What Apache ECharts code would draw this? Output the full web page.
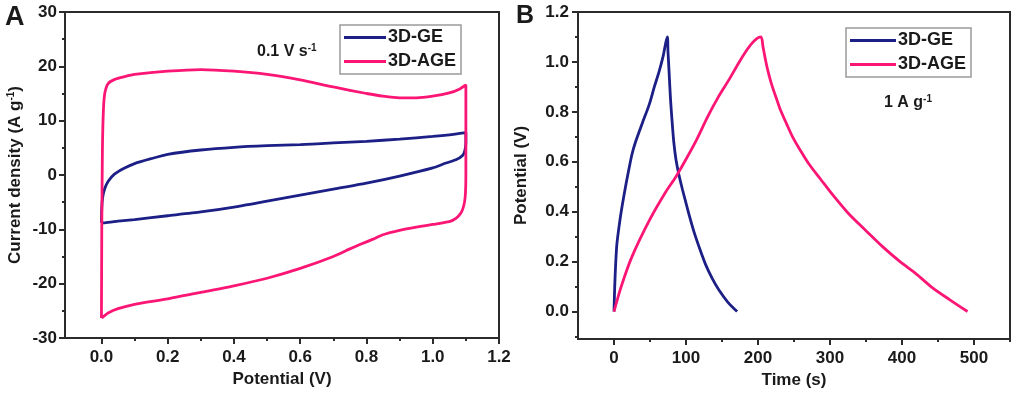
<!DOCTYPE html>
<html><head><meta charset="utf-8">
<script src="https://cdn.jsdelivr.net/npm/echarts@6/dist/echarts.min.js"></script>
<style>html,body{margin:0;padding:0;background:#fff}#c{width:1016px;height:395px}</style>
</head><body><div id="c"></div>
<script>
const seriesNames = ['3D-GE', '3D-AGE'];

// Panel A: cyclic voltammetry at 0.1 V/s (closed loops)
const cvGE_x = [0, 0.001, 0.004, 0.01, 0.02, 0.04, 0.07, 0.1, 0.15, 0.2, 0.3, 0.4, 0.5, 0.6, 0.7, 0.8, 0.9, 1.0, 1.05, 1.1, 1.1, 1.097, 1.09, 1.07, 1.04, 1.0, 0.9, 0.8, 0.7, 0.6, 0.5, 0.4, 0.3, 0.2, 0.1, 0.05, 0.01, 0];
const cvGE_y = [-8.8, -6, -4, -2.5, -1.2, 0.2, 1.3, 2.1, 3.0, 3.8, 4.6, 5.1, 5.4, 5.6, 5.9, 6.2, 6.6, 7.1, 7.4, 7.8, 6.0, 4.5, 3.6, 2.8, 2.2, 1.3, -0.2, -1.5, -2.6, -3.7, -4.8, -5.9, -6.8, -7.5, -8.2, -8.5, -8.8, -8.8];
const cvAGE_x = [0, 0.001, 0.003, 0.006, 0.01, 0.02, 0.04, 0.07, 0.1, 0.2, 0.3, 0.4, 0.5, 0.6, 0.7, 0.8, 0.85, 0.9, 0.95, 1.0, 1.05, 1.08, 1.1, 1.1, 1.1, 1.098, 1.093, 1.085, 1.07, 1.05, 1.0, 0.95, 0.9, 0.85, 0.82, 0.78, 0.75, 0.7, 0.6, 0.5, 0.4, 0.3, 0.2, 0.1, 0.05, 0.02, 0.005, 0];
const cvAGE_y = [-26.3, -10, 5, 12, 15, 16.8, 17.6, 18.1, 18.5, 19.1, 19.4, 19.1, 18.5, 17.5, 16.2, 15.0, 14.5, 14.2, 14.2, 14.5, 15.1, 15.8, 16.6, 10, 0, -4, -5.8, -7, -8, -8.6, -9.1, -9.6, -10.2, -11.0, -11.8, -12.8, -13.6, -15.0, -17.2, -19.0, -20.4, -21.6, -22.8, -23.8, -24.6, -25.4, -26.1, -26.3];

// Panel B: galvanostatic charge/discharge at 1 A/g
const gcdGE_t = [0, 1, 2.3, 4, 7, 10, 16, 20, 25, 30, 40, 49, 56, 62.5, 68, 74, 75, 76.5, 78.5, 81, 83, 86, 90, 95, 99.5, 105, 111, 118, 127, 136, 146, 158, 171];
const gcdGE_v = [0, 0.1, 0.19, 0.27, 0.34, 0.4, 0.5, 0.56, 0.63, 0.68, 0.76, 0.83, 0.9, 0.96, 1.02, 1.1, 1.04, 0.96, 0.85, 0.75, 0.68, 0.61, 0.55, 0.49, 0.44, 0.38, 0.32, 0.26, 0.19, 0.135, 0.085, 0.038, 0];
const gcdAGE_t = [0, 10, 25, 50, 72, 86, 100, 115, 130, 145, 160, 174, 185, 195, 204, 207, 211, 215, 220, 226, 231.5, 240, 248, 260, 271, 287, 303, 325, 350, 373, 396, 420, 442, 466, 491];
const gcdAGE_v = [0, 0.1, 0.22, 0.37, 0.48, 0.54, 0.61, 0.69, 0.78, 0.86, 0.93, 1.0, 1.05, 1.085, 1.1, 1.06, 1.0, 0.95, 0.9, 0.85, 0.805, 0.75, 0.70, 0.64, 0.59, 0.53, 0.47, 0.395, 0.324, 0.26, 0.203, 0.15, 0.096, 0.048, 0];

// Tick labels
const cvXTicks = [0, 0.2, 0.4, 0.6, 0.8, 1.0, 1.2];
const cvXMinor = [0.1, 0.3, 0.5, 0.7, 0.9, 1.1];
const cvYTicks = [-30, -20, -10, 0, 10, 20, 30];
const cvYMinor = [-25, -15, -5, 5, 15, 25];
const gcdXTicks = [0, 100, 200, 300, 400, 500];
const gcdXMinor = [50, 150, 250, 350, 450, 550];
const gcdYTicks = [0, 0.2, 0.4, 0.6, 0.8, 1.0, 1.2];
const gcdYMinor = [-0.1, 0.1, 0.3, 0.5, 0.7, 0.9, 1.1];

const FONT = 'Liberation Sans, Arial, sans-serif';
const TXT = '#1a1a1a';
const AX = '#2b2b2b';
const BLUE = '#1c1f85';
const PINK = '#fb1675';

function zip(a, b) { return a.map((v, i) => [v, b[i]]); }
const sup = { fontSize: 10, fontWeight: 'bold', fontFamily: FONT, color: TXT, verticalAlign: 'top', padding: [0, 0, 8, 0] };
const base = { fontSize: 17, fontWeight: 'bold', fontFamily: FONT, color: TXT };

function mainAxis(grid, min, max, ticks, fmt, extra) {
  return Object.assign({
    type: 'value', gridIndex: grid, min: min, max: max,
    axisLine: { show: true, onZero: false, lineStyle: { color: AX, width: 2 } },
    axisTick: { show: true, inside: false, length: 6, customValues: ticks, lineStyle: { color: AX, width: 2 } },
    axisLabel: { customValues: ticks, formatter: fmt, fontSize: 17, fontWeight: 'bold', fontFamily: FONT, color: TXT },
    splitLine: { show: false },
    nameLocation: 'middle'
  }, extra);
}
function minorAxis(grid, min, max, ticks, pos) {
  return {
    type: 'value', gridIndex: grid, min: min, max: max, position: pos,
    axisLine: { show: false, onZero: false },
    axisTick: { show: true, inside: false, length: 3, customValues: ticks, lineStyle: { color: AX, width: 2 } },
    axisLabel: { show: false },
    splitLine: { show: false }
  };
}

const legendCommon = {
  data: seriesNames, orient: 'vertical',
  icon: 'rect', itemHeight: 3, itemGap: 5,
  padding: [3, 5, 3, 4], borderColor: '#9a9a9a', borderWidth: 1.5, backgroundColor: '#fff',
  textStyle: { fontSize: 18, fontWeight: 'bold', fontFamily: FONT, color: TXT, lineHeight: 19, padding: [0, 0, 0, -3] },
  selectedMode: false
};

const option = {
  animation: false,
  backgroundColor: '#fff',
  grid: [
    { left: 65, right: 517, top: 12, bottom: 57, show: true, borderColor: AX, borderWidth: 2, backgroundColor: '#fff' },
    { left: 578, right: 6, top: 12, bottom: 56, show: true, borderColor: AX, borderWidth: 2, backgroundColor: '#fff' }
  ],
  xAxis: [
    mainAxis(0, -0.11, 1.2, cvXTicks, v => v.toFixed(1), {
      position: 'bottom', name: 'Potential (V)', nameGap: 33, nameTextStyle: base,
      axisLabel: { customValues: cvXTicks, formatter: v => v.toFixed(1), margin: 11, fontSize: 17, fontWeight: 'bold', fontFamily: FONT, color: TXT }
    }),
    minorAxis(0, -0.11, 1.2, cvXMinor, 'bottom'),
    mainAxis(1, -50, 550, gcdXTicks, v => String(v), {
      position: 'bottom', name: 'Time (s)', nameGap: 33, nameTextStyle: base,
      axisLabel: { customValues: gcdXTicks, formatter: v => String(v), margin: 11, fontSize: 17, fontWeight: 'bold', fontFamily: FONT, color: TXT }
    }),
    minorAxis(1, -50, 550, gcdXMinor, 'bottom')
  ],
  yAxis: [
    mainAxis(0, -30, 30, cvYTicks, v => String(v), {
      position: 'left', name: 'Current density (A g{sup|-1})', nameGap: 41,
      nameTextStyle: Object.assign({}, base, { rich: { sup: sup } }),
      axisLabel: { customValues: cvYTicks, formatter: v => String(v), margin: 8, fontSize: 17, fontWeight: 'bold', fontFamily: FONT, color: TXT }
    }),
    minorAxis(0, -30, 30, cvYMinor, 'left'),
    mainAxis(1, -0.11, 1.2, gcdYTicks, v => v.toFixed(1), {
      position: 'left', name: 'Potential (V)', nameGap: 48, nameTextStyle: base,
      axisLabel: { customValues: gcdYTicks, formatter: v => v.toFixed(1), margin: 9, fontSize: 17, fontWeight: 'bold', fontFamily: FONT, color: TXT }
    }),
    minorAxis(1, -0.11, 1.2, gcdYMinor, 'left')
  ],
  legend: [
    Object.assign({}, legendCommon, { left: 340, top: 25, itemWidth: 42 }),
    Object.assign({}, legendCommon, { left: 846, top: 28, itemWidth: 46 })
  ],
  graphic: [
    { type: 'text', left: 5, top: 4, style: { text: 'A', font: 'bold 27px ' + FONT, fill: TXT } },
    { type: 'text', left: 516, top: 4, style: { text: 'B', font: 'bold 25px ' + FONT, fill: TXT } },
    { type: 'text', left: 257, top: 43, style: { text: '0.1 V s{sup|-1}', font: 'bold 16px ' + FONT, fill: TXT, rich: { sup: sup } } },
    { type: 'text', left: 884, top: 94, style: { text: '1 A g{sup|-1}', font: 'bold 16px ' + FONT, fill: TXT, rich: { sup: sup } } }
  ],
  series: [
    { name: '3D-GE', type: 'line', xAxisIndex: 0, yAxisIndex: 0, data: zip(cvGE_x, cvGE_y), showSymbol: false, smooth: 0.2, color: BLUE, lineStyle: { width: 2.8, color: BLUE } },
    { name: '3D-AGE', type: 'line', xAxisIndex: 0, yAxisIndex: 0, data: zip(cvAGE_x, cvAGE_y), showSymbol: false, smooth: 0.2, color: PINK, lineStyle: { width: 2.8, color: PINK } },
    { name: '3D-GE', type: 'line', xAxisIndex: 2, yAxisIndex: 2, data: zip(gcdGE_t, gcdGE_v), showSymbol: false, smooth: 0.3, color: BLUE, lineStyle: { width: 2.8, color: BLUE } },
    { name: '3D-AGE', type: 'line', xAxisIndex: 2, yAxisIndex: 2, data: zip(gcdAGE_t, gcdAGE_v), showSymbol: false, smooth: 0.3, color: PINK, lineStyle: { width: 2.8, color: PINK } }
  ]
};
const chart = echarts.init(document.getElementById('c'), null, { renderer: 'canvas' });
chart.setOption(option);
</script>
</body></html>
